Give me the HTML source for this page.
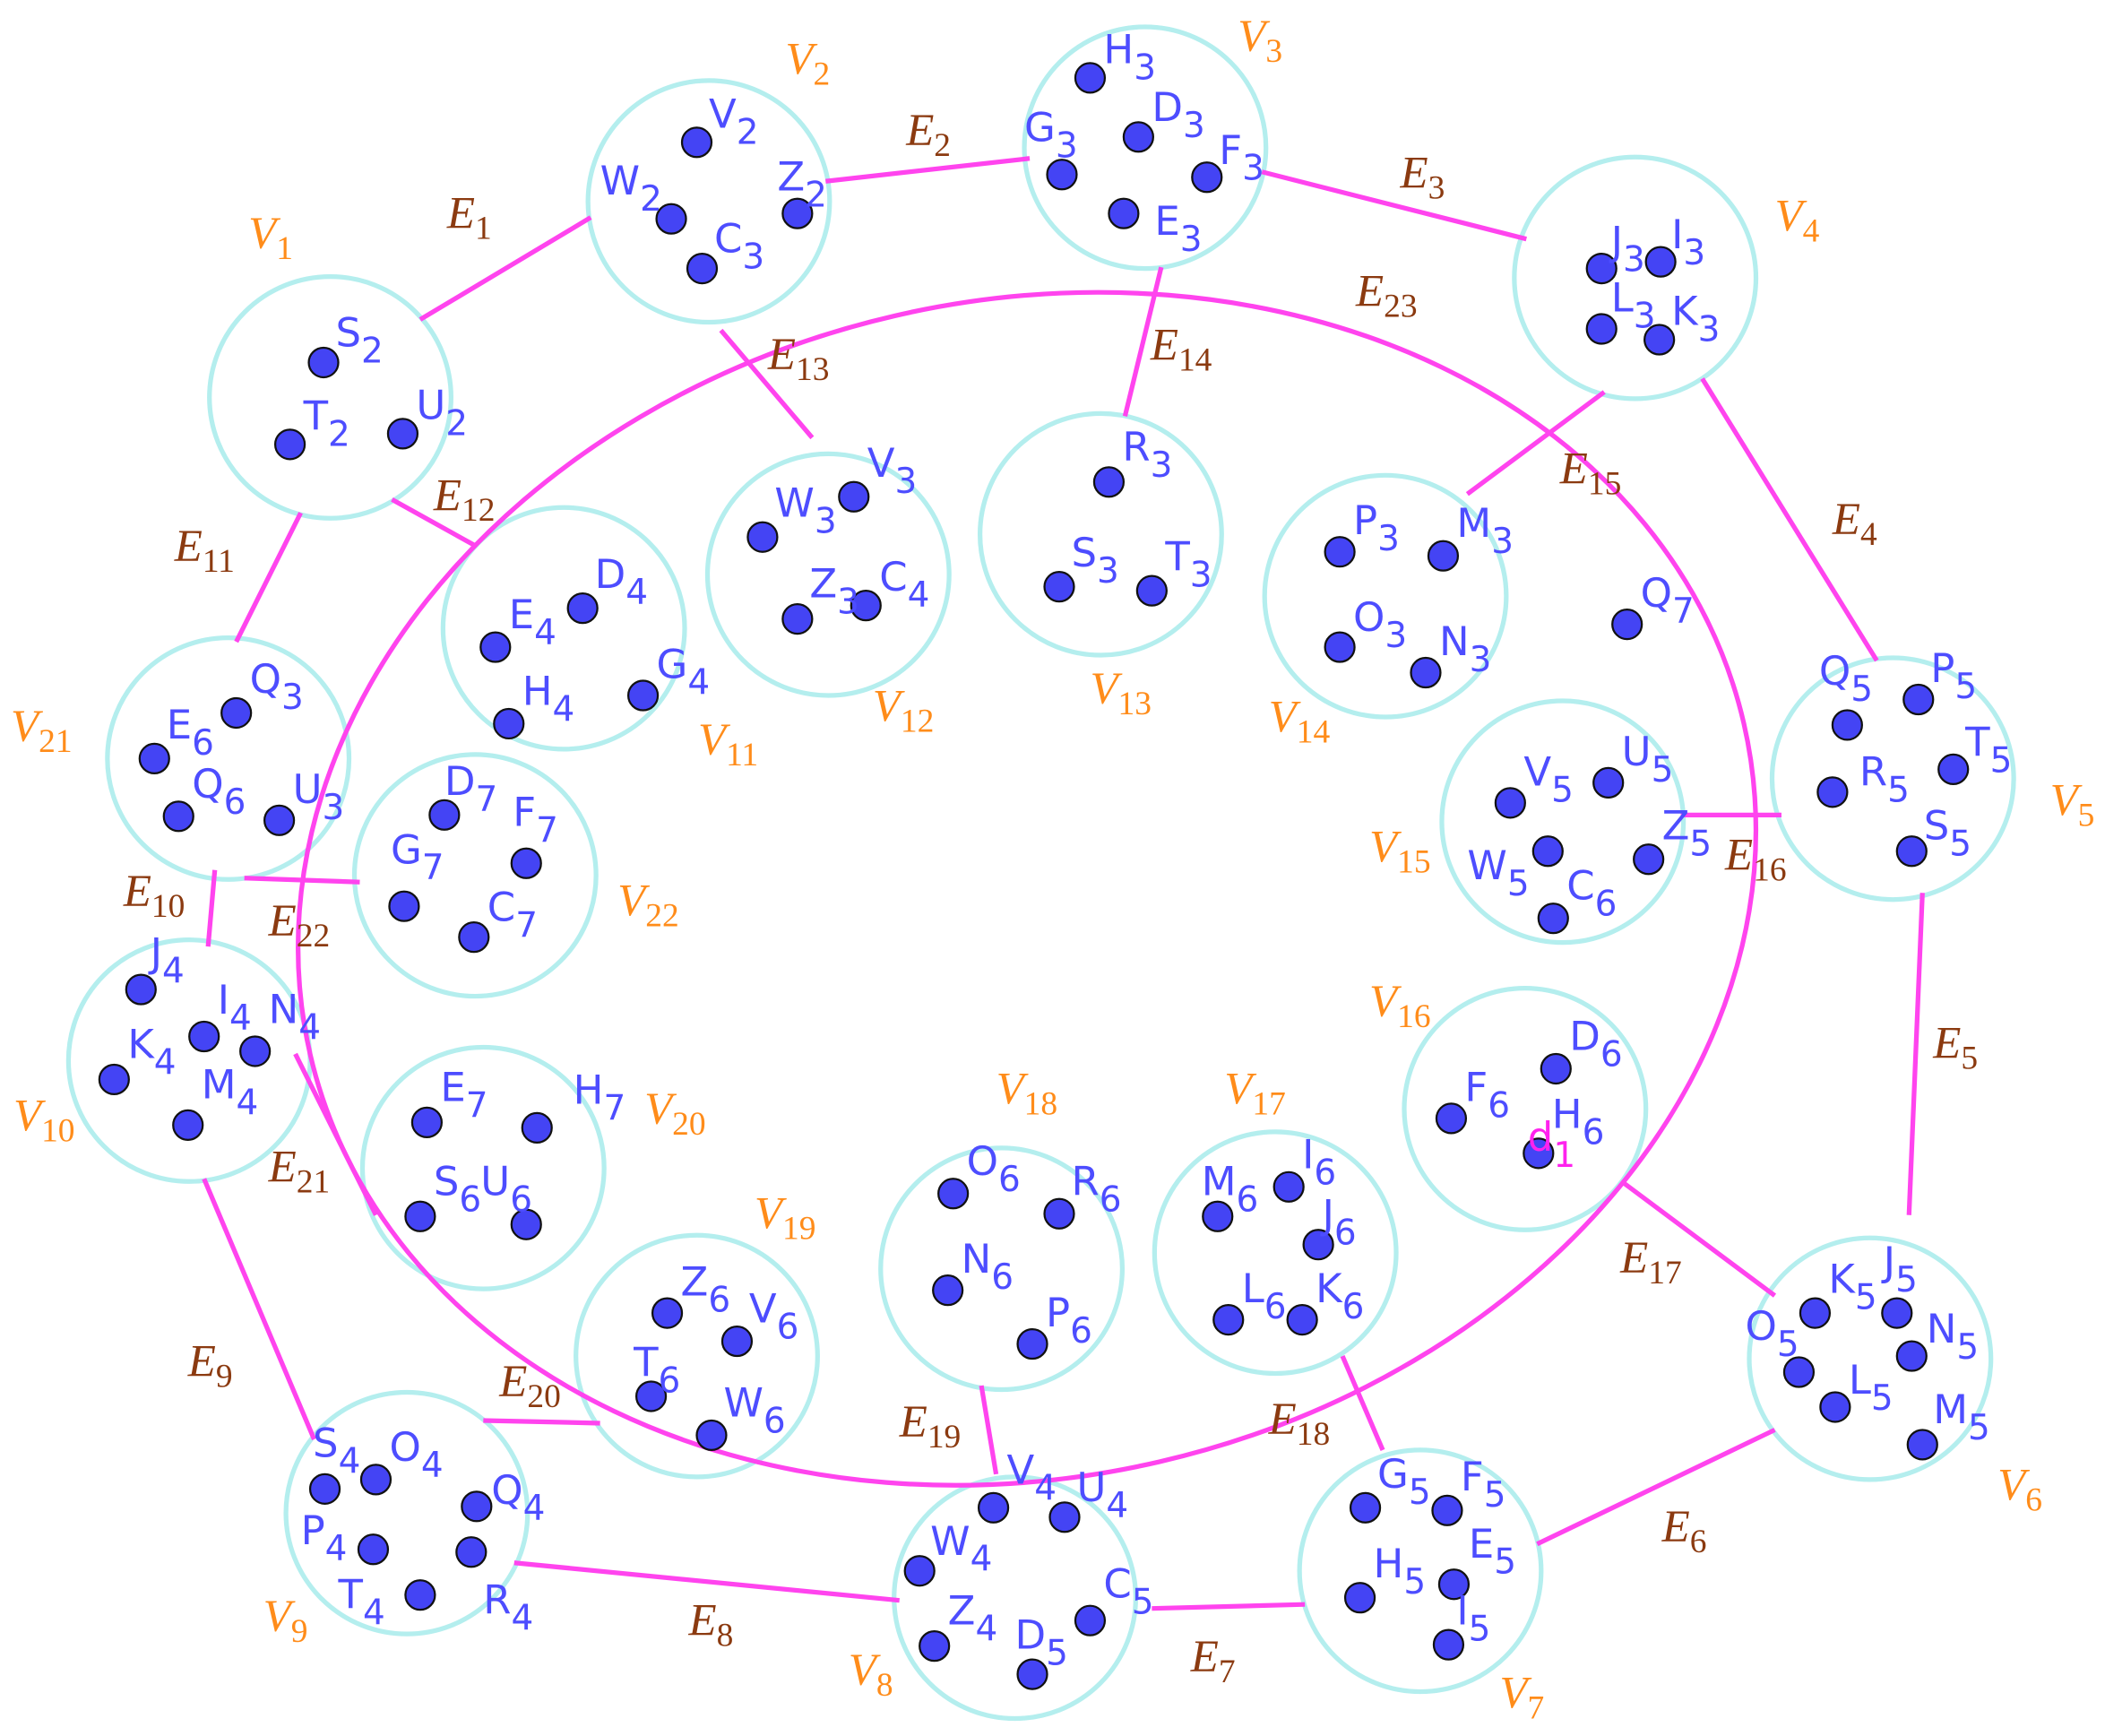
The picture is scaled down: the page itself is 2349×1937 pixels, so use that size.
<!DOCTYPE html>
<html><head><meta charset="utf-8"><style>
html,body{margin:0;padding:0;background:#fff;}
svg{display:block;}
.c{fill:none;stroke:#b4eeee;stroke-width:3.5;}
.e{stroke:#ff44ee;stroke-width:3.5;fill:none;}
.d{fill:#4444f4;stroke:#111;stroke-width:1.5;}
.n{font-family:"DejaVu Sans","Liberation Sans",sans-serif;font-size:30px;fill:#4d4dff;}
.s{font-size:26px;}
.v{font-family:"Liberation Serif",serif;font-style:italic;font-size:34px;fill:#ff8c1a;}
.l{font-family:"Liberation Serif",serif;font-style:italic;font-size:34px;fill:#8b3a10;}
.vs,.ls{font-style:normal;font-size:25px;}
</style></head><body>
<svg width="2349" height="1937" viewBox="0 0 1568 1293" preserveAspectRatio="none" xmlns="http://www.w3.org/2000/svg">
<g>
<circle class="c" cx="246" cy="296" r="90"/>
<circle class="c" cx="528" cy="150" r="90"/>
<circle class="c" cx="853" cy="110" r="90"/>
<circle class="c" cx="1218" cy="207" r="90"/>
<circle class="c" cx="1410" cy="580" r="90"/>
<circle class="c" cx="1393" cy="1012" r="90"/>
<circle class="c" cx="1058" cy="1170" r="90"/>
<circle class="c" cx="756" cy="1190" r="90"/>
<circle class="c" cx="303" cy="1127" r="90"/>
<circle class="c" cx="141" cy="790" r="90"/>
<circle class="c" cx="420" cy="468" r="90"/>
<circle class="c" cx="617" cy="428" r="90"/>
<circle class="c" cx="820" cy="398" r="90"/>
<circle class="c" cx="1032" cy="444" r="90"/>
<circle class="c" cx="1164" cy="612" r="90"/>
<circle class="c" cx="1136" cy="826" r="90"/>
<circle class="c" cx="950" cy="933" r="90"/>
<circle class="c" cx="746" cy="945" r="90"/>
<circle class="c" cx="519" cy="1010" r="90"/>
<circle class="c" cx="360" cy="870" r="90"/>
<circle class="c" cx="170" cy="565" r="90"/>
<circle class="c" cx="354" cy="652" r="90"/>
</g>
<ellipse class="e" cx="765" cy="662" rx="548" ry="438" transform="rotate(-13 765 662)"/>
<g class="e">
<line x1="313" y1="238" x2="440" y2="162"/>
<line x1="615" y1="135" x2="767" y2="118"/>
<line x1="940" y1="128" x2="1137" y2="178"/>
<line x1="1268" y1="282" x2="1398" y2="492"/>
<line x1="1432" y1="665" x2="1422" y2="905"/>
<line x1="1322" y1="1065" x2="1145" y2="1150"/>
<line x1="858" y1="1198" x2="972" y2="1195"/>
<line x1="383" y1="1164" x2="670" y2="1192"/>
<line x1="152" y1="878" x2="234" y2="1072"/>
<line x1="160" y1="648" x2="155" y2="705"/>
<line x1="224" y1="382" x2="176" y2="478"/>
<line x1="292" y1="372" x2="355" y2="407"/>
<line x1="537" y1="246" x2="605" y2="326"/>
<line x1="865" y1="199" x2="838" y2="310"/>
<line x1="1195" y1="292" x2="1093" y2="368"/>
<line x1="1252" y1="607" x2="1327" y2="607"/>
<line x1="1208" y1="880" x2="1322" y2="965"/>
<line x1="1000" y1="1010" x2="1030" y2="1080"/>
<line x1="731" y1="1032" x2="742" y2="1098"/>
<line x1="360" y1="1058" x2="447" y2="1060"/>
<line x1="220" y1="785" x2="280" y2="905"/>
<line x1="182" y1="654" x2="268" y2="657"/>
</g>
<g>
<circle class="d" cx="241" cy="270" r="11"/><circle class="d" cx="216" cy="331" r="11"/><circle class="d" cx="300" cy="323" r="11"/>
<circle class="d" cx="519" cy="106" r="11"/><circle class="d" cx="500" cy="163" r="11"/><circle class="d" cx="523" cy="200" r="11"/><circle class="d" cx="594" cy="159" r="11"/>
<circle class="d" cx="812" cy="58" r="11"/><circle class="d" cx="791" cy="130" r="11"/><circle class="d" cx="848" cy="102" r="11"/><circle class="d" cx="899" cy="132" r="11"/><circle class="d" cx="837" cy="159" r="11"/>
<circle class="d" cx="1193" cy="200" r="11"/><circle class="d" cx="1237" cy="195" r="11"/><circle class="d" cx="1193" cy="245" r="11"/><circle class="d" cx="1236" cy="253" r="11"/>
<circle class="d" cx="1376" cy="540" r="11"/><circle class="d" cx="1429" cy="521" r="11"/><circle class="d" cx="1455" cy="573" r="11"/><circle class="d" cx="1365" cy="590" r="11"/><circle class="d" cx="1424" cy="634" r="11"/>
<circle class="d" cx="1352" cy="978" r="11"/><circle class="d" cx="1413" cy="978" r="11"/><circle class="d" cx="1340" cy="1022" r="11"/><circle class="d" cx="1424" cy="1010" r="11"/><circle class="d" cx="1367" cy="1048" r="11"/><circle class="d" cx="1432" cy="1076" r="11"/>
<circle class="d" cx="1017" cy="1123" r="11"/><circle class="d" cx="1078" cy="1125" r="11"/><circle class="d" cx="1083" cy="1180" r="11"/><circle class="d" cx="1013" cy="1190" r="11"/><circle class="d" cx="1079" cy="1225" r="11"/>
<circle class="d" cx="740" cy="1123" r="11"/><circle class="d" cx="793" cy="1130" r="11"/><circle class="d" cx="685" cy="1170" r="11"/><circle class="d" cx="812" cy="1207" r="11"/><circle class="d" cx="696" cy="1226" r="11"/><circle class="d" cx="769" cy="1247" r="11"/>
<circle class="d" cx="242" cy="1109" r="11"/><circle class="d" cx="280" cy="1102" r="11"/><circle class="d" cx="355" cy="1122" r="11"/><circle class="d" cx="278" cy="1154" r="11"/><circle class="d" cx="351" cy="1156" r="11"/><circle class="d" cx="313" cy="1188" r="11"/>
<circle class="d" cx="105" cy="737" r="11"/><circle class="d" cx="152" cy="772" r="11"/><circle class="d" cx="190" cy="783" r="11"/><circle class="d" cx="85" cy="804" r="11"/><circle class="d" cx="140" cy="838" r="11"/>
<circle class="d" cx="434" cy="453" r="11"/><circle class="d" cx="369" cy="482" r="11"/><circle class="d" cx="479" cy="518" r="11"/><circle class="d" cx="379" cy="539" r="11"/>
<circle class="d" cx="636" cy="370" r="11"/><circle class="d" cx="568" cy="400" r="11"/><circle class="d" cx="645" cy="451" r="11"/><circle class="d" cx="594" cy="461" r="11"/>
<circle class="d" cx="826" cy="359" r="11"/><circle class="d" cx="789" cy="437" r="11"/><circle class="d" cx="858" cy="440" r="11"/>
<circle class="d" cx="998" cy="411" r="11"/><circle class="d" cx="1075" cy="414" r="11"/><circle class="d" cx="998" cy="482" r="11"/><circle class="d" cx="1062" cy="501" r="11"/>
<circle class="d" cx="1212" cy="465" r="11"/>
<circle class="d" cx="1125" cy="598" r="11"/><circle class="d" cx="1198" cy="583" r="11"/><circle class="d" cx="1228" cy="640" r="11"/><circle class="d" cx="1153" cy="634" r="11"/><circle class="d" cx="1157" cy="684" r="11"/>
<circle class="d" cx="1159" cy="796" r="11"/><circle class="d" cx="1081" cy="833" r="11"/><circle class="d" cx="1146" cy="859" r="11"/>
<circle class="d" cx="960" cy="884" r="11"/><circle class="d" cx="907" cy="906" r="11"/><circle class="d" cx="982" cy="927" r="11"/><circle class="d" cx="915" cy="983" r="11"/><circle class="d" cx="970" cy="983" r="11"/>
<circle class="d" cx="710" cy="889" r="11"/><circle class="d" cx="789" cy="904" r="11"/><circle class="d" cx="706" cy="961" r="11"/><circle class="d" cx="769" cy="1001" r="11"/>
<circle class="d" cx="497" cy="978" r="11"/><circle class="d" cx="549" cy="999" r="11"/><circle class="d" cx="485" cy="1040" r="11"/><circle class="d" cx="530" cy="1069" r="11"/>
<circle class="d" cx="318" cy="836" r="11"/><circle class="d" cx="400" cy="840" r="11"/><circle class="d" cx="313" cy="906" r="11"/><circle class="d" cx="392" cy="912" r="11"/>
<circle class="d" cx="176" cy="531" r="11"/><circle class="d" cx="115" cy="565" r="11"/><circle class="d" cx="133" cy="608" r="11"/><circle class="d" cx="208" cy="611" r="11"/>
<circle class="d" cx="331" cy="607" r="11"/><circle class="d" cx="392" cy="643" r="11"/><circle class="d" cx="301" cy="675" r="11"/><circle class="d" cx="353" cy="698" r="11"/>
</g>
<g class="n" transform="translate(0,10)">
<text x="250" y="248">S<tspan class="s" dy="12">2</tspan></text>
<text x="226" y="310">T<tspan class="s" dy="12">2</tspan></text>
<text x="310" y="302">U<tspan class="s" dy="12">2</tspan></text>
<text x="528" y="85">V<tspan class="s" dy="12">2</tspan></text>
<text x="447" y="135">W<tspan class="s" dy="12">2</tspan></text>
<text x="532" y="178">C<tspan class="s" dy="12">3</tspan></text>
<text x="579" y="132">Z<tspan class="s" dy="12">2</tspan></text>
<text x="822" y="37">H<tspan class="s" dy="12">3</tspan></text>
<text x="763" y="95">G<tspan class="s" dy="12">3</tspan></text>
<text x="858" y="80">D<tspan class="s" dy="12">3</tspan></text>
<text x="908" y="112">F<tspan class="s" dy="12">3</tspan></text>
<text x="860" y="165">E<tspan class="s" dy="12">3</tspan></text>
<text x="1200" y="180">J<tspan class="s" dy="12">3</tspan></text>
<text x="1245" y="175">I<tspan class="s" dy="12">3</tspan></text>
<text x="1200" y="222">L<tspan class="s" dy="12">3</tspan></text>
<text x="1245" y="232">K<tspan class="s" dy="12">3</tspan></text>
<text x="1355" y="500">Q<tspan class="s" dy="12">5</tspan></text>
<text x="1438" y="498">P<tspan class="s" dy="12">5</tspan></text>
<text x="1464" y="553">T<tspan class="s" dy="12">5</tspan></text>
<text x="1385" y="575">R<tspan class="s" dy="12">5</tspan></text>
<text x="1433" y="615">S<tspan class="s" dy="12">5</tspan></text>
<text x="1362" y="953">K<tspan class="s" dy="12">5</tspan></text>
<text x="1403" y="940">J<tspan class="s" dy="12">5</tspan></text>
<text x="1300" y="988">O<tspan class="s" dy="12">5</tspan></text>
<text x="1435" y="990">N<tspan class="s" dy="12">5</tspan></text>
<text x="1377" y="1028">L<tspan class="s" dy="12">5</tspan></text>
<text x="1440" y="1050">M<tspan class="s" dy="12">5</tspan></text>
<text x="1026" y="1098">G<tspan class="s" dy="12">5</tspan></text>
<text x="1088" y="1100">F<tspan class="s" dy="12">5</tspan></text>
<text x="1094" y="1150">E<tspan class="s" dy="12">5</tspan></text>
<text x="1023" y="1165">H<tspan class="s" dy="12">5</tspan></text>
<text x="1085" y="1200">I<tspan class="s" dy="12">5</tspan></text>
<text x="750" y="1095">V<tspan class="s" dy="12">4</tspan></text>
<text x="802" y="1108">U<tspan class="s" dy="12">4</tspan></text>
<text x="693" y="1148">W<tspan class="s" dy="12">4</tspan></text>
<text x="822" y="1180">C<tspan class="s" dy="12">5</tspan></text>
<text x="706" y="1200">Z<tspan class="s" dy="12">4</tspan></text>
<text x="756" y="1218">D<tspan class="s" dy="12">5</tspan></text>
<text x="233" y="1075">S<tspan class="s" dy="12">4</tspan></text>
<text x="290" y="1078">O<tspan class="s" dy="12">4</tspan></text>
<text x="366" y="1110">Q<tspan class="s" dy="12">4</tspan></text>
<text x="224" y="1140">P<tspan class="s" dy="12">4</tspan></text>
<text x="360" y="1192">R<tspan class="s" dy="12">4</tspan></text>
<text x="252" y="1188">T<tspan class="s" dy="12">4</tspan></text>
<text x="112" y="710">J<tspan class="s" dy="12">4</tspan></text>
<text x="162" y="745">I<tspan class="s" dy="12">4</tspan></text>
<text x="200" y="752">N<tspan class="s" dy="12">4</tspan></text>
<text x="95" y="778">K<tspan class="s" dy="12">4</tspan></text>
<text x="150" y="808">M<tspan class="s" dy="12">4</tspan></text>
<text x="443" y="428">D<tspan class="s" dy="12">4</tspan></text>
<text x="379" y="458">E<tspan class="s" dy="12">4</tspan></text>
<text x="489" y="495">G<tspan class="s" dy="12">4</tspan></text>
<text x="389" y="515">H<tspan class="s" dy="12">4</tspan></text>
<text x="646" y="345">V<tspan class="s" dy="12">3</tspan></text>
<text x="577" y="375">W<tspan class="s" dy="12">3</tspan></text>
<text x="655" y="430">C<tspan class="s" dy="12">4</tspan></text>
<text x="603" y="435">Z<tspan class="s" dy="12">3</tspan></text>
<text x="836" y="333">R<tspan class="s" dy="12">3</tspan></text>
<text x="798" y="412">S<tspan class="s" dy="12">3</tspan></text>
<text x="868" y="415">T<tspan class="s" dy="12">3</tspan></text>
<text x="1008" y="388">P<tspan class="s" dy="12">3</tspan></text>
<text x="1085" y="390">M<tspan class="s" dy="12">3</tspan></text>
<text x="1008" y="460">O<tspan class="s" dy="12">3</tspan></text>
<text x="1072" y="478">N<tspan class="s" dy="12">3</tspan></text>
<text x="1222" y="442">Q<tspan class="s" dy="12">7</tspan></text>
<text x="1135" y="575">V<tspan class="s" dy="12">5</tspan></text>
<text x="1208" y="560">U<tspan class="s" dy="12">5</tspan></text>
<text x="1238" y="615">Z<tspan class="s" dy="12">5</tspan></text>
<text x="1093" y="645">W<tspan class="s" dy="12">5</tspan></text>
<text x="1167" y="660">C<tspan class="s" dy="12">6</tspan></text>
<text x="1169" y="772">D<tspan class="s" dy="12">6</tspan></text>
<text x="1091" y="810">F<tspan class="s" dy="12">6</tspan></text>
<text x="1156" y="830">H<tspan class="s" dy="12">6</tspan></text>
<text x="1138" y="847" style="fill:#ff22ee">d<tspan class="s" dy="12">1</tspan></text>
<text x="970" y="860">I<tspan class="s" dy="12">6</tspan></text>
<text x="895" y="880">M<tspan class="s" dy="12">6</tspan></text>
<text x="985" y="905">J<tspan class="s" dy="12">6</tspan></text>
<text x="925" y="960">L<tspan class="s" dy="12">6</tspan></text>
<text x="980" y="960">K<tspan class="s" dy="12">6</tspan></text>
<text x="720" y="865">O<tspan class="s" dy="12">6</tspan></text>
<text x="798" y="880">R<tspan class="s" dy="12">6</tspan></text>
<text x="716" y="938">N<tspan class="s" dy="12">6</tspan></text>
<text x="779" y="978">P<tspan class="s" dy="12">6</tspan></text>
<text x="507" y="955">Z<tspan class="s" dy="12">6</tspan></text>
<text x="558" y="975">V<tspan class="s" dy="12">6</tspan></text>
<text x="472" y="1015">T<tspan class="s" dy="12">6</tspan></text>
<text x="539" y="1045">W<tspan class="s" dy="12">6</tspan></text>
<text x="328" y="810">E<tspan class="s" dy="12">7</tspan></text>
<text x="427" y="812">H<tspan class="s" dy="12">7</tspan></text>
<text x="323" y="880">S<tspan class="s" dy="12">6</tspan></text>
<text x="358" y="880">U<tspan class="s" dy="12">6</tspan></text>
<text x="186" y="506">Q<tspan class="s" dy="12">3</tspan></text>
<text x="124" y="540">E<tspan class="s" dy="12">6</tspan></text>
<text x="143" y="584">Q<tspan class="s" dy="12">6</tspan></text>
<text x="218" y="588">U<tspan class="s" dy="12">3</tspan></text>
<text x="331" y="582">D<tspan class="s" dy="12">7</tspan></text>
<text x="382" y="605">F<tspan class="s" dy="12">7</tspan></text>
<text x="291" y="633">G<tspan class="s" dy="12">7</tspan></text>
<text x="363" y="676">C<tspan class="s" dy="12">7</tspan></text>
</g>
<g class="v">
<text x="185" y="185">V<tspan class="vs" dy="8">1</tspan></text>
<text x="585" y="55">V<tspan class="vs" dy="8">2</tspan></text>
<text x="922" y="38">V<tspan class="vs" dy="8">3</tspan></text>
<text x="1322" y="172">V<tspan class="vs" dy="8">4</tspan></text>
<text x="1527" y="607">V<tspan class="vs" dy="8">5</tspan></text>
<text x="1488" y="1117">V<tspan class="vs" dy="8">6</tspan></text>
<text x="1117" y="1272">V<tspan class="vs" dy="8">7</tspan></text>
<text x="632" y="1255">V<tspan class="vs" dy="8">8</tspan></text>
<text x="196" y="1215">V<tspan class="vs" dy="8">9</tspan></text>
<text x="10" y="842">V<tspan class="vs" dy="8">10</tspan></text>
<text x="520" y="562">V<tspan class="vs" dy="8">11</tspan></text>
<text x="650" y="537">V<tspan class="vs" dy="8">12</tspan></text>
<text x="812" y="524">V<tspan class="vs" dy="8">13</tspan></text>
<text x="945" y="545">V<tspan class="vs" dy="8">14</tspan></text>
<text x="1020" y="642">V<tspan class="vs" dy="8">15</tspan></text>
<text x="1020" y="757">V<tspan class="vs" dy="8">16</tspan></text>
<text x="912" y="822">V<tspan class="vs" dy="8">17</tspan></text>
<text x="742" y="822">V<tspan class="vs" dy="8">18</tspan></text>
<text x="562" y="915">V<tspan class="vs" dy="8">19</tspan></text>
<text x="480" y="837">V<tspan class="vs" dy="8">20</tspan></text>
<text x="8" y="552">V<tspan class="vs" dy="8">21</tspan></text>
<text x="460" y="682">V<tspan class="vs" dy="8">22</tspan></text>
</g>
<g class="l">
<text x="333" y="170">E<tspan class="ls" dy="8">1</tspan></text>
<text x="675" y="108">E<tspan class="ls" dy="8">2</tspan></text>
<text x="1043" y="140">E<tspan class="ls" dy="8">3</tspan></text>
<text x="1365" y="398">E<tspan class="ls" dy="8">4</tspan></text>
<text x="1440" y="788">E<tspan class="ls" dy="8">5</tspan></text>
<text x="1238" y="1148">E<tspan class="ls" dy="8">6</tspan></text>
<text x="887" y="1245">E<tspan class="ls" dy="8">7</tspan></text>
<text x="513" y="1218">E<tspan class="ls" dy="8">8</tspan></text>
<text x="140" y="1025">E<tspan class="ls" dy="8">9</tspan></text>
<text x="92" y="675">E<tspan class="ls" dy="8">10</tspan></text>
<text x="130" y="418">E<tspan class="ls" dy="8">11</tspan></text>
<text x="323" y="380">E<tspan class="ls" dy="8">12</tspan></text>
<text x="572" y="275">E<tspan class="ls" dy="8">13</tspan></text>
<text x="857" y="268">E<tspan class="ls" dy="8">14</tspan></text>
<text x="1162" y="360">E<tspan class="ls" dy="8">15</tspan></text>
<text x="1285" y="648">E<tspan class="ls" dy="8">16</tspan></text>
<text x="1207" y="948">E<tspan class="ls" dy="8">17</tspan></text>
<text x="945" y="1068">E<tspan class="ls" dy="8">18</tspan></text>
<text x="670" y="1070">E<tspan class="ls" dy="8">19</tspan></text>
<text x="372" y="1040">E<tspan class="ls" dy="8">20</tspan></text>
<text x="200" y="880">E<tspan class="ls" dy="8">21</tspan></text>
<text x="200" y="697">E<tspan class="ls" dy="8">22</tspan></text>
<text x="1010" y="228">E<tspan class="ls" dy="8">23</tspan></text>
</g>
</svg>
</body></html>
